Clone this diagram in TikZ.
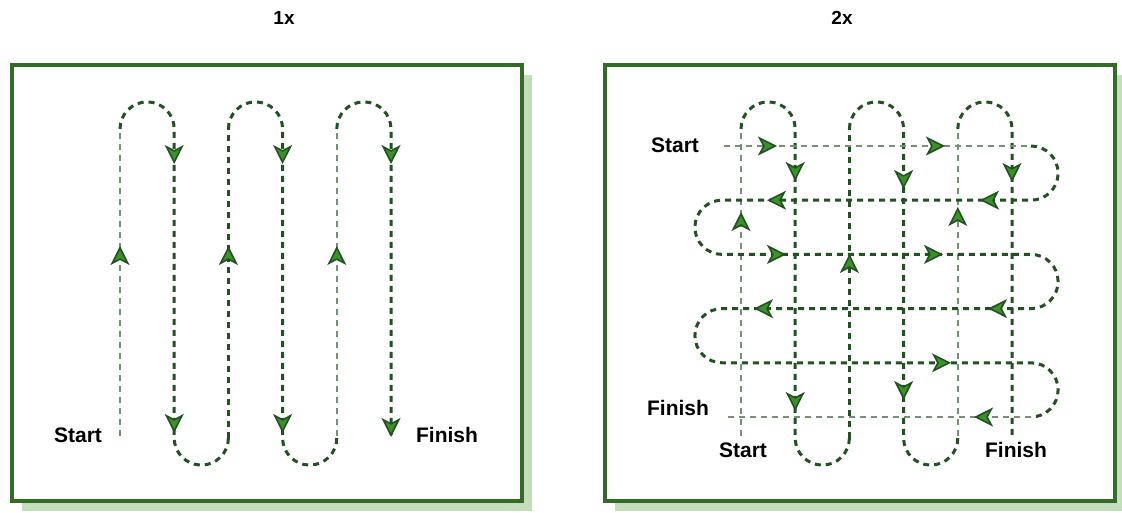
\documentclass[tikz,border=0pt]{standalone}
\usepackage{fontspec}
\setmainfont{Liberation Sans}
\usetikzlibrary{arrows.meta}
\definecolor{framegreen}{RGB}{50,108,38}
\definecolor{shadowgreen}{RGB}{196,222,188}
\definecolor{passdark}{RGB}{34,82,34}
\definecolor{passlight}{RGB}{118,146,118}
\definecolor{tipgreen}{RGB}{58,146,40}
\tikzset{
  field/.style={draw=framegreen,line width=4pt,fill=white},
  fieldshadow/.style={fill=shadowgreen},
  pass/.style={passdark,line width=3pt,dash pattern=on 6pt off 5pt},
  lightpass/.style={passlight,line width=2pt,dash pattern=on 6pt off 5pt},
  marktip/.style={-{Stealth[length=19pt,width=19pt,inset=5pt,fill=tipgreen,line width=1.6pt]},passdark,line width=1pt},
  lbl/.style={font=\fontsize{21}{24}\selectfont\bfseries,inner sep=0pt},
  ttl/.style={font=\fontsize{19}{22}\selectfont\bfseries,inner sep=0pt}
}

\begin{document}
\begin{tikzpicture}[x=1pt,y=1pt]
  \useasboundingbox (0,0) rectangle (1122,512);
  % frames
  \fill[fieldshadow] (22,1) rectangle (532,437);
  \fill[fieldshadow] (615,1) rectangle (1125,437);
  \draw[field] (12,11) rectangle (522,447);
  \draw[field] (605,11) rectangle (1115,447);
  \node[ttl] (t1) at (284,494) {1x};
  \node[ttl] (t2) at (842,494) {2x};
  % one-way passes, same in both fields
  \foreach \s in {0,621}{
    \begin{scope}[xshift=\s]
      \foreach \x in {120,336.8}
        \draw[lightpass] (\x,76) -- (\x,383);
      \draw[pass] (228.4,74) -- (228.4,383);
      \draw[pass] (120,383) arc[start angle=180,end angle=0,radius=27.1]
        -- (174.2,74) arc[start angle=180,end angle=360,radius=27.1];
      \draw[pass] (228.4,383) arc[start angle=180,end angle=0,radius=27.1]
        -- (282.6,74) arc[start angle=180,end angle=360,radius=27.1];
      \draw[pass] (336.8,383) arc[start angle=180,end angle=0,radius=27.1]
        -- (391,77);
    \end{scope}
  }
  % cross passes
  \draw[lightpass] (724,366) -- (1031,366);
  \draw[pass] (1031,366) arc[start angle=90,end angle=-90,radius=27.1]
    -- (722,311.8) arc[start angle=90,end angle=270,radius=27.1]
    -- (1031,257.6) arc[start angle=90,end angle=-90,radius=27.1]
    -- (722,203.4) arc[start angle=90,end angle=270,radius=27.1]
    -- (1031,149.2) arc[start angle=90,end angle=-90,radius=27.1];
  \draw[lightpass] (1031,95) -- (724,95);
  % heading marks
  \foreach \x/\y/\a in {120/266/90,228.4/266/90,336.8/266/90,
                        174.2/348/-90,282.6/348/-90,391/348/-90,
                        174.2/79/-90,282.6/79/-90,391/75/-90,
                        741/300/90,849.4/258/90,957.8/305/90,
                        795.2/331/-90,903.6/323/-90,1012/330/-90,
                        795.2/101/-90,903.6/112/-90,
                        777/366/0,945/366/0,786/257.6/0,943/257.6/0,951/149.2/0,
                        767/311.8/180,980/311.8/180,754/203.4/180,988/203.4/180,974/95/180}
    \draw[marktip] (\x,\y) ++(\a+180:2) -- (\x,\y);
  % labels
  \node[lbl] (s1) at (78,77) {Start};
  \node[lbl] (f1) at (447,77) {Finish};
  \node[lbl] (s2) at (675,367) {Start};
  \node[lbl] (f2) at (678,104) {Finish};
  \node[lbl] (s3) at (743,62) {Start};
  \node[lbl] (f3) at (1016,62) {Finish};
\end{tikzpicture}
\end{document}
